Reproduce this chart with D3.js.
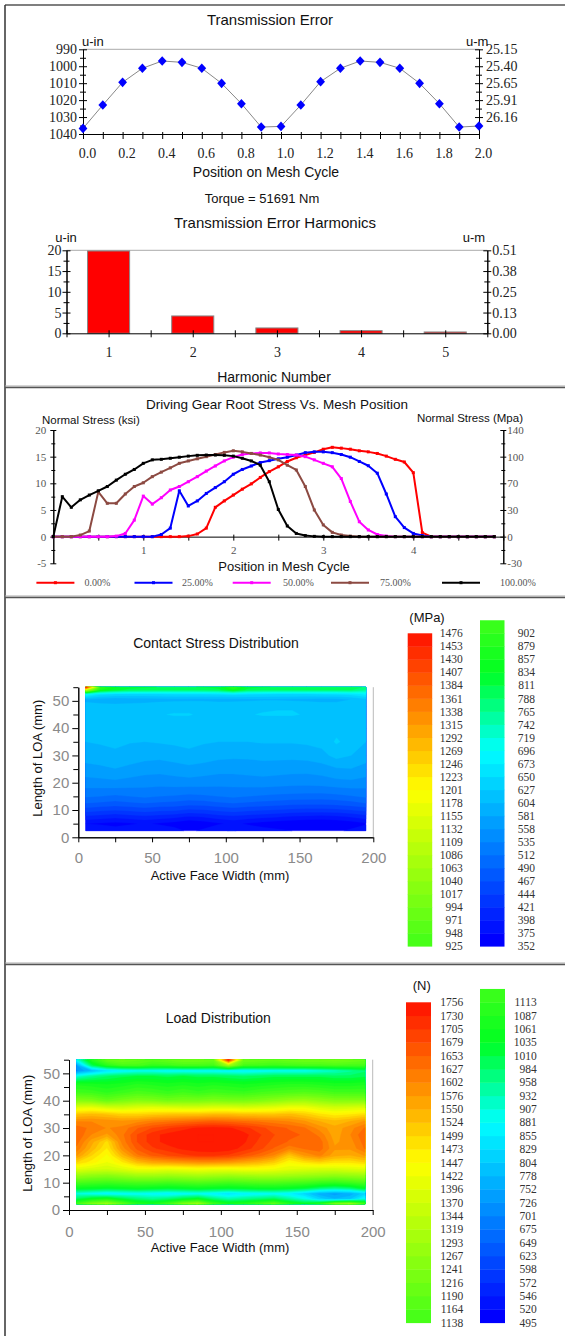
<!DOCTYPE html>
<html>
<head>
<meta charset="utf-8">
<title>Gear mesh analysis</title>
<script src="https://cdn.jsdelivr.net/npm/d3@7"></script>
<style>
  body { margin: 0; background: #fff; }
  svg { display: block; }
</style>
</head>
<body>
<svg id="chart" width="565" height="1336"></svg>
<script>

// =====================================================================================================================
// DATA
// =====================================================================================================================

// Transmission error (u-in) vs position on mesh cycle
var tePositions = [0.0, 0.1, 0.2, 0.3, 0.4, 0.5, 0.6, 0.7, 0.8, 0.9, 1.0, 1.1, 1.2, 1.3, 1.4, 1.5, 1.6, 1.7, 1.8, 1.9, 2.0];
var teValues = [1036.7, 1022.9, 1009.5, 1001.2, 996.9, 997.7, 1001.2, 1010.1, 1022.1, 1035.9, 1035.5,
                1022.9, 1009.1, 1001.2, 996.9, 997.7, 1001.2, 1010.1, 1022.1, 1035.9, 1035.3];
var teLeftTicks = [990, 1000, 1010, 1020, 1030, 1040];
var teLeftMinor = [995, 1005, 1015, 1025, 1035];
var teRightTicks = [990, 1000, 1010, 1020, 1030];
var teRightLabels = ["25.15", "25.40", "25.65", "25.91", "26.16"];
var teXLabels = [0.0, 0.2, 0.4, 0.6, 0.8, 1.0, 1.2, 1.4, 1.6, 1.8, 2.0];

// Transmission error harmonics
var harmonicNumbers = [1, 2, 3, 4, 5];
var harmonicAmps = [19.84, 4.18, 1.29, 0.64, 0.32];
var harmLeftTicks = [0, 5, 10, 15, 20];
var harmLeftMinor = [2.5, 7.5, 12.5, 17.5];
var harmRightLabels = ["0.00", "0.13", "0.25", "0.38", "0.51"];
var harmXTicks = [0.5, 1, 1.5, 2, 2.5, 3, 3.5, 4, 4.5, 5, 5.5];

// Root stress (ksi) vs position in mesh cycle
var meshPositions = [0.0, 0.1, 0.2, 0.3, 0.4, 0.5, 0.6, 0.7, 0.8, 0.9, 1.0, 1.1, 1.2, 1.3, 1.4, 1.5, 1.6, 1.7, 1.8, 1.9,
                     2.0, 2.1, 2.2, 2.3, 2.4, 2.5, 2.6, 2.7, 2.8, 2.9, 3.0, 3.1, 3.2, 3.3, 3.4, 3.5, 3.6, 3.7, 3.8, 3.9,
                     4.0, 4.1, 4.2, 4.3, 4.4, 4.5, 4.6, 4.7, 4.8, 4.9];
var stress0 = [0, 0, 0, 0, 0, 0, 0, 0, 0, 0, 0, 0, 0, 0, 0, 0.1, 0.5, 1.6, 5.5, 6.7,
               7.8, 8.9, 9.9, 11.1, 12.2, 13.1, 14.1, 14.8, 15.3, 15.8, 16.4, 16.75, 16.6, 16.4, 16.1, 15.9, 15.6, 15.1, 14.5, 14.0,
               12.0, 0.75, 0, 0, 0, 0, 0, 0, 0, 0];
var stress25 = [0, 0, 0, 0, 0, 0, 0, 0, 0, 0, 0, 0, 0.4, 1.6, 8.6, 5.75, 6.7, 8.1, 9.2, 10.3,
                11.7, 12.6, 13.25, 13.9, 14.25, 14.6, 14.9, 15.3, 15.75, 15.9, 15.9, 15.75, 15.4, 14.9, 14.1, 13.3, 11.9, 8.0, 3.75, 1.7,
                0.6, 0.2, 0, 0, 0, 0, 0, 0, 0, 0];
var stress50 = [0, 0, 0, 0, 0, 0, 0, 0.1, 0.6, 3.1, 7.6, 6.1, 7.3, 8.75, 9.4, 10.3, 11.25, 12.3, 13.25, 14.2,
                14.9, 15.4, 15.6, 15.7, 15.7, 15.5, 15.4, 15.3, 15.0, 14.4, 13.75, 13.1, 10.9, 6.6, 2.8, 1.25, 0.4, 0.1, 0, 0,
                0, 0, 0, 0, 0, 0, 0, 0, 0, 0];
var stress75 = [0, 0, 0, 0.3, 1.05, 8.4, 6.25, 6.25, 8.0, 9.4, 10.1, 11.25, 12.1, 12.9, 13.75, 14.2, 14.6, 15.0, 15.4, 15.8,
                16.1, 15.9, 15.6, 15.3, 14.9, 14.4, 13.4, 12.5, 9.4, 5.0, 2.2, 0.8, 0.3, 0.1, 0, 0, 0, 0, 0, 0,
                0, 0, 0, 0, 0, 0, 0, 0, 0, 0];
var stress100 = [0, 7.5, 5.5, 6.9, 7.8, 8.6, 9.4, 10.6, 11.7, 12.6, 13.75, 14.4, 14.5, 14.7, 14.9, 15.1, 15.25, 15.3, 15.3, 15.25,
                 15.1, 14.7, 14.2, 13.4, 10.3, 5.1, 2.0, 0.6, 0.2, 0.05, 0, 0, 0, 0, 0, 0, 0, 0, 0, 0,
                 0, 0, 0, 0, 0, 0, 0, 0, 0, 0];
var stressNames = ["0.00%", "25.00%", "50.00%", "75.00%", "100.00%"];
var stressLeftTicks = [-5, 0, 5, 10, 15, 20];
var stressLeftMinor = [-2.5, 2.5, 7.5, 12.5, 17.5];
var stressRightLabels = ["-30", "0", "30", "70", "100", "140"];
var stressXLabels = [1, 2, 3, 4];
var stressXTicks = [0.5, 1, 1.5, 2, 2.5, 3, 3.5, 4, 4.5, 5];

// Face width / line of action axes shared by both contour maps
var faceTicks = [0, 50, 100, 150, 200];
var faceMinor = [25, 75, 125, 175];
var loaTicks = [0, 10, 20, 30, 40, 50];
var loaMinor = [5, 15, 25, 35, 45, 55];

// Contact stress (MPa)
var contactLevels = [352, 375, 398, 421, 444, 467, 490, 512, 535, 558, 581, 604, 627, 650, 673, 696, 719, 742, 765, 788,
                     811, 834, 857, 879, 902, 925, 948, 971, 994, 1017, 1040, 1063, 1086, 1109, 1132, 1155, 1178, 1201, 1223, 1246,
                     1269, 1292, 1315, 1338, 1361, 1384, 1407, 1430, 1453, 1476];
var contactX = [5, 15, 25, 35, 45, 55, 65, 75, 85, 95, 105, 115, 125, 135, 145, 155, 165, 175, 185, 195];
var contactY = [2.4, 5, 7.5, 10, 12.5, 15, 20, 25, 30, 35, 40, 45, 48, 50.5, 52.5, 54, 55];
var contactGrid = [
    [395, 390, 385, 390, 395, 390, 385, 370, 380, 395, 400, 390, 385, 380, 375, 370, 365, 370, 380, 390],
    [375, 372, 368, 372, 378, 372, 365, 355, 362, 372, 380, 372, 365, 360, 356, 352, 352, 355, 362, 372],
    [415, 410, 405, 410, 415, 410, 405, 395, 400, 410, 415, 410, 405, 400, 395, 392, 390, 393, 400, 410],
    [455, 450, 445, 450, 455, 450, 448, 440, 442, 450, 455, 450, 446, 442, 438, 436, 435, 438, 444, 452],
    [490, 486, 482, 486, 490, 486, 484, 478, 480, 486, 490, 486, 483, 480, 476, 475, 474, 477, 482, 490],
    [515, 512, 508, 512, 516, 512, 510, 505, 508, 512, 516, 512, 509, 506, 504, 503, 502, 505, 510, 516],
    [548, 550, 552, 548, 545, 544, 546, 548, 546, 544, 544, 546, 548, 546, 544, 543, 545, 550, 552, 548],
    [572, 575, 580, 574, 568, 566, 570, 574, 570, 566, 566, 568, 570, 568, 566, 566, 570, 578, 580, 572],
    [592, 596, 600, 595, 590, 588, 592, 598, 594, 588, 586, 586, 588, 588, 588, 590, 596, 612, 604, 592],
    [604, 606, 608, 605, 604, 606, 608, 610, 606, 604, 604, 604, 606, 606, 606, 608, 612, 630, 618, 604],
    [610, 612, 614, 612, 612, 616, 618, 618, 614, 612, 612, 614, 616, 616, 616, 616, 618, 620, 616, 610],
    [618, 620, 620, 620, 622, 626, 628, 628, 624, 622, 624, 626, 628, 628, 628, 626, 624, 622, 620, 616],
    [610, 612, 612, 614, 616, 620, 622, 622, 620, 618, 620, 622, 624, 626, 626, 622, 618, 616, 614, 612],
    [600, 592, 588, 590, 592, 594, 596, 598, 598, 596, 596, 598, 600, 600, 598, 596, 594, 596, 604, 620],
    [700, 660, 650, 648, 648, 650, 652, 652, 652, 654, 660, 654, 652, 650, 650, 650, 652, 654, 660, 680],
    [1100, 860, 820, 800, 795, 790, 790, 790, 792, 800, 850, 800, 792, 790, 790, 790, 790, 790, 790, 760],
    [1476, 900, 840, 820, 815, 810, 810, 810, 812, 820, 900, 820, 812, 810, 810, 810, 810, 810, 810, 780]
];

// Load distribution (N)
var loadLevels = [495, 520, 546, 572, 598, 623, 649, 675, 701, 726, 752, 778, 804, 829, 855, 881, 907, 932, 958, 984,
                  1010, 1035, 1061, 1087, 1113, 1138, 1164, 1190, 1216, 1241, 1267, 1293, 1319, 1344, 1370, 1396, 1422, 1447, 1473, 1499,
                  1524, 1550, 1576, 1602, 1627, 1653, 1679, 1705, 1730, 1756];
var loadX = [5, 15, 25, 35, 45, 55, 65, 75, 85, 95, 105, 115, 125, 135, 145, 155, 165, 175, 185, 195];
var loadY = [2.2, 4, 6, 8, 10, 12.5, 15, 17.5, 20, 22.5, 25, 27.5, 30, 32.5, 35, 37.5, 40, 43, 46, 49, 51, 53, 55];
var loadGrid = [
    [1150, 1250, 1300, 1200, 1100, 1080, 1150, 1250, 1300, 1150, 1080, 1100, 1150, 1200, 1100, 1050, 1100, 1250, 1300, 1150],
    [1000, 1050, 1080, 1020, 980, 960, 980, 1020, 1050, 980, 940, 960, 980, 1000, 950, 900, 820, 780, 800, 900],
    [900, 880, 860, 870, 880, 870, 860, 870, 880, 860, 840, 860, 870, 880, 860, 820, 760, 740, 760, 820],
    [1050, 1040, 1030, 1040, 1050, 1040, 1030, 1040, 1050, 1040, 1030, 1040, 1050, 1050, 1040, 1020, 980, 960, 980, 1040],
    [1150, 1140, 1130, 1140, 1150, 1150, 1140, 1150, 1160, 1150, 1140, 1150, 1160, 1160, 1150, 1140, 1120, 1110, 1130, 1150],
    [1280, 1260, 1250, 1270, 1290, 1290, 1280, 1290, 1300, 1290, 1280, 1290, 1300, 1300, 1290, 1280, 1270, 1260, 1270, 1280],
    [1400, 1380, 1370, 1390, 1420, 1420, 1410, 1420, 1430, 1420, 1420, 1430, 1430, 1420, 1400, 1390, 1380, 1380, 1390, 1400],
    [1500, 1460, 1420, 1470, 1530, 1560, 1570, 1580, 1590, 1590, 1580, 1560, 1540, 1510, 1450, 1480, 1500, 1480, 1480, 1500],
    [1580, 1500, 1440, 1540, 1620, 1660, 1680, 1700, 1710, 1710, 1700, 1670, 1640, 1600, 1520, 1580, 1610, 1560, 1550, 1580],
    [1620, 1540, 1470, 1590, 1660, 1700, 1720, 1735, 1745, 1750, 1745, 1720, 1690, 1650, 1610, 1630, 1640, 1580, 1580, 1630],
    [1640, 1560, 1490, 1610, 1680, 1720, 1740, 1750, 1756, 1756, 1750, 1735, 1700, 1670, 1650, 1650, 1640, 1570, 1590, 1640],
    [1650, 1600, 1570, 1620, 1680, 1720, 1740, 1750, 1756, 1756, 1752, 1740, 1710, 1680, 1660, 1650, 1620, 1560, 1600, 1650],
    [1640, 1620, 1600, 1610, 1650, 1680, 1700, 1720, 1735, 1740, 1735, 1715, 1690, 1665, 1650, 1630, 1590, 1560, 1590, 1630],
    [1600, 1600, 1590, 1580, 1590, 1610, 1620, 1630, 1640, 1650, 1640, 1630, 1620, 1610, 1600, 1580, 1550, 1530, 1550, 1580],
    [1520, 1530, 1520, 1500, 1500, 1510, 1520, 1520, 1520, 1530, 1530, 1520, 1520, 1520, 1530, 1510, 1480, 1460, 1470, 1490],
    [1400, 1410, 1380, 1370, 1390, 1400, 1390, 1380, 1380, 1390, 1390, 1380, 1390, 1400, 1420, 1420, 1390, 1370, 1380, 1390],
    [1250, 1240, 1200, 1230, 1250, 1240, 1220, 1230, 1230, 1240, 1230, 1230, 1240, 1260, 1280, 1290, 1270, 1250, 1250, 1250],
    [1140, 1130, 1110, 1130, 1150, 1140, 1120, 1140, 1120, 1140, 1130, 1120, 1140, 1150, 1160, 1170, 1160, 1140, 1140, 1140],
    [1080, 1070, 1060, 1070, 1090, 1080, 1070, 1080, 1070, 1080, 1070, 1060, 1070, 1080, 1090, 1090, 1080, 1070, 1070, 1080],
    [900, 950, 980, 1000, 1010, 1010, 1000, 1010, 1000, 1000, 990, 980, 990, 1000, 1000, 1000, 1000, 990, 990, 1000],
    [720, 780, 840, 860, 880, 880, 870, 870, 870, 870, 860, 860, 870, 880, 880, 880, 900, 920, 950, 980],
    [750, 1000, 1100, 1150, 1150, 1120, 1130, 1150, 1150, 1140, 1300, 1150, 1140, 1130, 1140, 1150, 1150, 1160, 1150, 1150],
    [900, 1100, 1200, 1220, 1200, 1180, 1200, 1220, 1220, 1210, 1756, 1220, 1210, 1200, 1210, 1220, 1220, 1230, 1220, 1200]
];

// =====================================================================================================================
// HELPERS
// =====================================================================================================================

var SANS = '"Liberation Sans", Arial, sans-serif';
var SERIF = '"Liberation Serif", "Times New Roman", serif';
var plain = function (d) { return String(d); };

var svg = d3.select("#chart");

function label(g, x, y, str, size, anchor, font, fill) {
    return g.append("text")
        .attr("x", x).attr("y", y).attr("dy", "0.35em")
        .attr("text-anchor", anchor || "middle")
        .attr("font-family", font || SANS)
        .attr("font-size", size)
        .attr("fill", fill || "#111")
        .text(str);
}

function styleAxis(sel, font, size, color) {
    sel.attr("font-family", font).attr("font-size", size);
    sel.selectAll(".tick text").attr("fill", color);
    sel.selectAll(".tick line").attr("stroke", "#000");
    sel.select(".domain").attr("stroke", "#000");
}

function hline(g, x1, x2, y, color, w) {
    g.append("line").attr("x1", x1).attr("x2", x2).attr("y1", y).attr("y2", y)
        .attr("stroke", color).attr("stroke-width", w || 1);
}

function vline(g, x, y1, y2, color, w) {
    g.append("line").attr("x1", x).attr("x2", x).attr("y1", y1).attr("y2", y2)
        .attr("stroke", color).attr("stroke-width", w || 1);
}

// rainbow used by both contour maps, indexed by band number (0..48)
var bandColor = d3.scaleLinear()
    .domain([0, 14.5, 20.5, 36.5, 48])
    .range(["#0000ff", "#00ffff", "#00ff22", "#ffff00", "#ff1a00"])
    .clamp(true);

// =====================================================================================================================
// FRAME
// =====================================================================================================================

hline(svg, 5, 565, 5, "#555", 1.5);
vline(svg, 5, 5, 1336, "#333", 1.5);
[387, 597, 964].forEach(function (y) {
    hline(svg, 5, 565, y - 1, "#aaa", 1);
    hline(svg, 5, 565, y + 0.5, "#555", 1.5);
});

// =====================================================================================================================
// TRANSMISSION ERROR
// =====================================================================================================================

var g1 = svg.append("g");
var x1 = d3.scaleLinear().domain([0, 2]).range([83, 479]);
var y1 = d3.scaleLinear().domain([990, 1040]).range([49.3, 134]);

label(g1, 270, 19.5, "Transmission Error", 15);
label(g1, 82, 41, "u-in", 13, "start");
label(g1, 466, 41, "u-m", 13, "start");

hline(g1, x1(0), x1(2), y1(990), "#aaa");

var teL = g1.append("g").attr("transform", "translate(" + x1(0) + ",0)")
    .call(d3.axisLeft(y1).tickValues(teLeftTicks).tickSize(4).tickPadding(2).tickSizeOuter(0).tickFormat(plain));
teL.selectAll(".tick line").attr("x1", 4);
styleAxis(teL, SERIF, 14, "#222");
var teLm = g1.append("g").attr("transform", "translate(" + x1(0) + ",0)")
    .call(d3.axisLeft(y1).tickValues(teLeftMinor).tickSize(3).tickFormat("").tickSizeOuter(0));
teLm.selectAll(".tick line").attr("x1", 3);
styleAxis(teLm, SERIF, 14, "#222");

var teR = g1.append("g").attr("transform", "translate(" + x1(2) + ",0)")
    .call(d3.axisRight(y1).tickValues(teRightTicks).tickSize(4).tickPadding(3).tickSizeOuter(0)
        .tickFormat(function (d, i) { return teRightLabels[i]; }));
teR.selectAll(".tick line").attr("x1", -4);
styleAxis(teR, SERIF, 14, "#222");
var teRm = g1.append("g").attr("transform", "translate(" + x1(2) + ",0)")
    .call(d3.axisRight(y1).tickValues(teLeftMinor).tickSize(3).tickFormat("").tickSizeOuter(0));
teRm.selectAll(".tick line").attr("x1", -3);
styleAxis(teRm, SERIF, 14, "#222");

var teB = g1.append("g").attr("transform", "translate(0," + y1(1040) + ")")
    .call(d3.axisBottom(x1).tickValues(tePositions).tickSize(5).tickFormat("").tickSizeOuter(0));
teB.selectAll(".tick line").attr("y1", -2);
styleAxis(teB, SERIF, 14, "#222");
var teBl = g1.append("g").attr("transform", "translate(0," + y1(1040) + ")")
    .call(d3.axisBottom(x1).tickValues(teXLabels).tickSize(0).tickPadding(14).tickFormat(d3.format(".1f")));
teBl.select(".domain").remove();
teBl.selectAll(".tick text").attr("dx", 4);
styleAxis(teBl, SERIF, 14, "#222");

label(g1, 266, 172, "Position on Mesh Cycle", 14);

g1.append("path").datum(teValues)
    .attr("d", d3.line().x(function (d, i) { return x1(tePositions[i]); }).y(function (d) { return y1(d); }))
    .attr("fill", "none").attr("stroke", "#888").attr("stroke-width", 1);

g1.selectAll(".dia").data(teValues).join("path")
    .attr("class", "dia")
    .attr("transform", function (d, i) { return "translate(" + x1(tePositions[i]) + "," + y1(d) + ")"; })
    .attr("d", "M0,-4.8L4.4,0L0,4.8L-4.4,0Z")
    .attr("fill", "#0000ff");

// =====================================================================================================================
// HARMONICS
// =====================================================================================================================

var g2 = svg.append("g");
var x2 = d3.scaleLinear().domain([0.5, 5.5]).range([66.5, 487.3]);
var y2 = d3.scaleLinear().domain([0, 20]).range([333.3, 250.3]);

label(g2, 262, 198.5, "Torque = 51691 Nm", 13);
label(g2, 275, 222.5, "Transmission Error Harmonics", 15);
label(g2, 66, 237.5, "u-in", 13);
label(g2, 474, 237.5, "u-m", 13);

hline(g2, x2(0.5), x2(5.5), y2(20), "#aaa");

g2.selectAll(".bar").data(harmonicAmps).join("rect")
    .attr("class", "bar")
    .attr("x", function (d, i) { return x2(harmonicNumbers[i] - 0.25); })
    .attr("width", function (d, i) { return x2(harmonicNumbers[i] + 0.25) - x2(harmonicNumbers[i] - 0.25); })
    .attr("y", function (d) { return y2(d); })
    .attr("height", function (d) { return y2(0) - y2(d); })
    .attr("fill", "#ff0000").attr("stroke", "#888").attr("stroke-width", 1);

var hL = g2.append("g").attr("transform", "translate(" + x2(0.5) + ",0)")
    .call(d3.axisLeft(y2).tickValues(harmLeftTicks).tickSize(4).tickPadding(1).tickSizeOuter(0).tickFormat(plain));
hL.selectAll(".tick line").attr("x1", 4);
styleAxis(hL, SERIF, 14, "#222");
var hLm = g2.append("g").attr("transform", "translate(" + x2(0.5) + ",0)")
    .call(d3.axisLeft(y2).tickValues(harmLeftMinor).tickSize(3).tickFormat("").tickSizeOuter(0));
hLm.selectAll(".tick line").attr("x1", 3);
styleAxis(hLm, SERIF, 14, "#222");

var hR = g2.append("g").attr("transform", "translate(" + x2(5.5) + ",0)")
    .call(d3.axisRight(y2).tickValues(harmLeftTicks).tickSize(4).tickPadding(1).tickSizeOuter(0)
        .tickFormat(function (d, i) { return harmRightLabels[i]; }));
hR.selectAll(".tick line").attr("x1", -4);
styleAxis(hR, SERIF, 14, "#222");
var hRm = g2.append("g").attr("transform", "translate(" + x2(5.5) + ",0)")
    .call(d3.axisRight(y2).tickValues(harmLeftMinor).tickSize(3).tickFormat("").tickSizeOuter(0));
hRm.selectAll(".tick line").attr("x1", -3);
styleAxis(hRm, SERIF, 14, "#222");

var hB = g2.append("g").attr("transform", "translate(0," + y2(0) + ")")
    .call(d3.axisBottom(x2).tickValues(harmXTicks).tickSize(4).tickFormat("").tickSizeOuter(0));
hB.selectAll(".tick line").attr("y1", -3);
styleAxis(hB, SERIF, 14, "#222");
var hBl = g2.append("g").attr("transform", "translate(0," + y2(0) + ")")
    .call(d3.axisBottom(x2).tickValues(harmonicNumbers).tickSize(0).tickPadding(14).tickFormat(plain));
hBl.select(".domain").remove();
styleAxis(hBl, SERIF, 14, "#222");

label(g2, 274, 377, "Harmonic Number", 14);

// =====================================================================================================================
// ROOT STRESS
// =====================================================================================================================

var g3 = svg.append("g");
var x3 = d3.scaleLinear().domain([0, 5]).range([53.3, 503.3]);
var y3 = d3.scaleLinear().domain([-5, 20]).range([563.3, 430]);

label(g3, 277, 404, "Driving Gear Root Stress Vs. Mesh Position", 13.5);
label(g3, 42, 420, "Normal Stress (ksi)", 11.5, "start");
label(g3, 523, 418, "Normal Stress (Mpa)", 11.5, "end");

var sL = g3.append("g").attr("transform", "translate(" + x3(0) + ",0)")
    .call(d3.axisLeft(y3).tickValues(stressLeftTicks).tickSize(3).tickPadding(4).tickSizeOuter(0).tickFormat(plain));
sL.selectAll(".tick line").attr("x1", 3);
styleAxis(sL, SERIF, 11, "#555");
var sLm = g3.append("g").attr("transform", "translate(" + x3(0) + ",0)")
    .call(d3.axisLeft(y3).tickValues(stressLeftMinor).tickSize(2).tickFormat("").tickSizeOuter(0));
sLm.selectAll(".tick line").attr("x1", 2);
styleAxis(sLm, SERIF, 11, "#555");

var sR = g3.append("g").attr("transform", "translate(" + x3(5) + ",0)")
    .call(d3.axisRight(y3).tickValues(stressLeftTicks).tickSize(3).tickPadding(1).tickSizeOuter(0)
        .tickFormat(function (d, i) { return stressRightLabels[i]; }));
sR.selectAll(".tick line").attr("x1", -3);
styleAxis(sR, SERIF, 11, "#555");
var sRm = g3.append("g").attr("transform", "translate(" + x3(5) + ",0)")
    .call(d3.axisRight(y3).tickValues(stressLeftMinor).tickSize(2).tickFormat("").tickSizeOuter(0));
sRm.selectAll(".tick line").attr("x1", -2);
styleAxis(sRm, SERIF, 11, "#555");

var sB = g3.append("g").attr("transform", "translate(0," + y3(0) + ")")
    .call(d3.axisBottom(x3).tickValues(stressXTicks).tickSize(4).tickFormat("").tickSizeOuter(0));
sB.selectAll(".tick line").attr("y1", -2);
styleAxis(sB, SERIF, 11, "#555");
var sBl = g3.append("g").attr("transform", "translate(0," + y3(0) + ")")
    .call(d3.axisBottom(x3).tickValues(stressXLabels).tickSize(0).tickPadding(10).tickFormat(plain));
sBl.select(".domain").remove();
styleAxis(sBl, SERIF, 11, "#555");

label(g3, 284, 566, "Position in Mesh Cycle", 13);

var stressSeries = [stress0, stress25, stress50, stress75, stress100];
var stressColors = ["#ff0000", "#0000ff", "#ff00ff", "#8c4a42", "#000000"];

var stressLine = d3.line()
    .x(function (d, i) { return x3(meshPositions[i]); })
    .y(function (d) { return y3(d); });

stressSeries.forEach(function (series, s) {
    g3.append("path").datum(series)
        .attr("d", stressLine)
        .attr("fill", "none").attr("stroke", stressColors[s]).attr("stroke-width", 2)
        .attr("stroke-linejoin", "round");
    g3.selectAll(".m" + s).data(series).join("rect")
        .attr("class", "m" + s)
        .attr("x", function (d, i) { return x3(meshPositions[i]) - 1.5; })
        .attr("y", function (d) { return y3(d) - 1.5; })
        .attr("width", 3).attr("height", 3)
        .attr("fill", stressColors[s]);
});

// legend
var legendLineX = [36.4, 134.5, 232.7, 331, 442];
var legendTextX = [84.4, 182, 283, 380, 500];
stressNames.forEach(function (name, s) {
    var lx = legendLineX[s];
    hline(g3, lx, lx + 38, 582.7, stressColors[s], 2);
    g3.append("rect").attr("x", lx + 17.5).attr("y", 581.2).attr("width", 3).attr("height", 3).attr("fill", stressColors[s]);
    label(g3, legendTextX[s], 582.7, name, 10, "start", SERIF, "#555");
});

// =====================================================================================================================
// CONTOUR MAPS
// =====================================================================================================================

function drawField(g, xs, ys, grid, levels, xScale, yScale) {
    var n = xs.length, m = ys.length;
    var ix = d3.scaleLinear().domain(d3.range(n)).range(xs).clamp(true);
    var iy = d3.scaleLinear().domain(d3.range(m)).range(ys).clamp(true);
    var proj = d3.geoTransform({
        point: function (px, py) {
            this.stream.point(xScale(ix(px - 0.5)), yScale(iy(py - 0.5)));
        }
    });
    var path = d3.geoPath(proj);
    var bands = d3.contours().size([n, m]).thresholds(levels)(d3.merge(grid));
    g.selectAll(".band").data(bands).join("path")
        .attr("class", "band")
        .attr("d", path)
        .attr("fill", function (d, i) { return bandColor(Math.min(i, levels.length - 2)); })
        .attr("stroke", function (d, i) { return bandColor(Math.min(i, levels.length - 2)); })
        .attr("stroke-width", 0.3);
}

function drawFieldAxes(g, xScale, yScale, labelPad) {
    var yA = g.append("g").attr("transform", "translate(" + xScale(0) + ",0)")
        .call(d3.axisLeft(yScale).tickValues(loaTicks).tickSize(6).tickPadding(3).tickSizeOuter(0).tickFormat(plain));
    styleAxis(yA, SANS, 15, "#8a8a8a");
    var yM = g.append("g").attr("transform", "translate(" + xScale(0) + ",0)")
        .call(d3.axisLeft(yScale).tickValues(loaMinor).tickSize(5).tickFormat("").tickSizeOuter(0));
    styleAxis(yM, SANS, 15, "#8a8a8a");
    var xA = g.append("g").attr("transform", "translate(0," + yScale(0) + ")")
        .call(d3.axisBottom(xScale).tickValues(faceTicks).tickSize(5).tickPadding(labelPad).tickSizeOuter(0).tickFormat(plain));
    styleAxis(xA, SANS, 15, "#8a8a8a");
    var xM = g.append("g").attr("transform", "translate(0," + yScale(0) + ")")
        .call(d3.axisBottom(xScale).tickValues(faceMinor).tickSize(5).tickFormat("").tickSizeOuter(0));
    styleAxis(xM, SANS, 15, "#8a8a8a");
    vline(g, xScale(200), yScale(55), yScale(0), "#bbb", 1);
}

function drawLegend(g, levels, unit, cfg) {
    var yR = d3.scaleLinear().domain([0, 24]).range([cfg.bottom, cfg.top]);
    var yL = d3.scaleLinear().domain([25, 49]).range([cfg.bottom, cfg.top]);
    var rightBands = d3.range(0, 25);
    var leftBands = d3.range(25, 49);
    g.selectAll(".rb").data(rightBands).join("rect")
        .attr("class", "rb")
        .attr("x", cfg.rightBar).attr("width", cfg.barW)
        .attr("y", function (k) { return yR(k + 1); })
        .attr("height", function (k) { return yR(k) - yR(k + 1) + 0.4; })
        .attr("fill", function (k) { return bandColor(k); });
    g.selectAll(".lb").data(leftBands).join("rect")
        .attr("class", "lb")
        .attr("x", cfg.leftBar).attr("width", cfg.barW)
        .attr("y", function (k) { return yL(k + 1); })
        .attr("height", function (k) { return yL(k) - yL(k + 1) + 0.4; })
        .attr("fill", function (k) { return bandColor(k); });
    levels.forEach(function (v, k) {
        if (k < 25) {
            label(g, cfg.rightText, yR(k), v, 11.5, "end", SERIF, "#333");
        } else {
            label(g, cfg.leftText, yL(k), v, 11.5, "end", SERIF, "#333");
        }
    });
    label(g, cfg.unitX, cfg.unitY, unit, 13);
}

// Contact stress
var g4 = svg.append("g");
var xH1 = d3.scaleLinear().domain([0, 200]).range([78.3, 373.3]);
var yH1 = d3.scaleLinear().domain([0, 55]).range([837.3, 687.2]);
label(g4, 216, 643.3, "Contact Stress Distribution", 14);
drawField(g4.append("g"), contactX, contactY, contactGrid, contactLevels, xH1, yH1);
drawFieldAxes(g4, xH1, yH1, 10.5);
label(g4, 220, 875, "Active Face Width (mm)", 13);
label(g4, 0, 0, "Length of LOA (mm)", 13).attr("transform", "translate(37.7,758.3) rotate(-90)");
drawLegend(g4, contactLevels, "(MPa)", {
    top: 633.3, bottom: 946.2, leftBar: 407.7, rightBar: 480, barW: 24.5,
    leftText: 462.7, rightText: 535, unitX: 427, unitY: 617.3
});

// Load distribution
var g5 = svg.append("g");
var xH2 = d3.scaleLinear().domain([0, 200]).range([69, 372.7]);
var yH2 = d3.scaleLinear().domain([0, 55]).range([1210, 1059.7]);
label(g5, 218.3, 1018.3, "Load Distribution", 14);
drawField(g5.append("g"), loadX, loadY, loadGrid, loadLevels, xH2, yH2);
drawFieldAxes(g5, xH2, yH2, 11.4);
label(g5, 220, 1247.3, "Active Face Width (mm)", 13);
label(g5, 0, 0, "Length of LOA (mm)", 13).attr("transform", "translate(27.7,1133.3) rotate(-90)");
drawLegend(g5, loadLevels, "(N)", {
    top: 1002.3, bottom: 1322.7, leftBar: 406, rightBar: 480, barW: 25,
    leftText: 463.3, rightText: 536.7, unitX: 421.7, unitY: 985
});

</script>
</body>
</html>
